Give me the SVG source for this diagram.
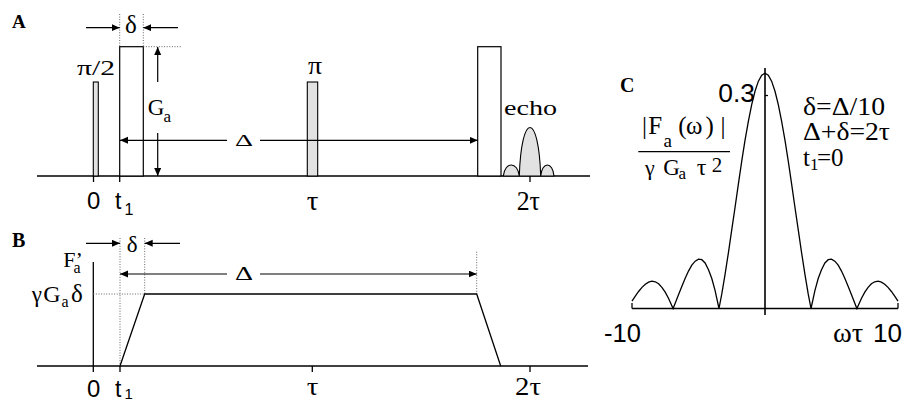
<svg xmlns="http://www.w3.org/2000/svg" width="913" height="401" viewBox="0 0 913 401">
<style>
.ln{stroke:#000;stroke-width:1.3;fill:none}
.ax{stroke:#000;stroke-width:1.6;fill:none}
.dot{stroke:#666;stroke-width:1;stroke-dasharray:1 1.6;fill:none}
.box{stroke:#000;stroke-width:1.2;fill:#fff}
.gray{stroke:#000;stroke-width:1.1;fill:#e2e2e2}
.arr{stroke:#000;stroke-width:1.2;fill:none;marker-end:url(#ah)}
.s{font-family:"Liberation Serif","DejaVu Serif",serif;fill:#000}
.b{font-family:"Liberation Serif","DejaVu Serif",serif;font-weight:bold;fill:#000}
.ss{font-family:"Liberation Sans",Arial,sans-serif;fill:#000}
</style>
<defs>
<marker id="ah" markerUnits="userSpaceOnUse" markerWidth="9" markerHeight="8" refX="8" refY="3.5" orient="auto">
<path d="M0,0 L8,3.5 L0,7 Z" fill="#000"/>
</marker>
</defs>
<rect width="913" height="401" fill="#fff"/>

<g id="panelA">
<text class="b" x="12" y="28" font-size="19">A</text>
<g id="A-shapes">
<line class="ax" x1="37" y1="176" x2="590" y2="176"/>
<line class="ln" x1="93.5" y1="176" x2="93.5" y2="182"/>
<line class="ln" x1="119.7" y1="176" x2="119.7" y2="182"/>
<line class="ln" x1="530" y1="176" x2="530" y2="182"/>
<rect id="pulse90" class="gray" x="93.3" y="82" width="5" height="94"/>
<rect id="grad1" class="box" x="119.7" y="46.7" width="23.6" height="129.3"/>
<rect id="pulse180" class="gray" x="307.3" y="82" width="10.4" height="94"/>
<rect id="grad2" class="box" x="477.7" y="46.7" width="23.3" height="129.3"/>
<path id="echo" class="gray" d="M503.3,176 C504.9,161.3 517.7,161.3 519.3,176 Z M519.3,176 C521.4,111.3 538.6,111.3 540.7,176 Z M540.7,176 C542,161.3 552.7,161.3 554,176 Z"/>
<line class="dot" x1="119.7" y1="14" x2="119.7" y2="46.7"/>
<line class="dot" x1="143.3" y1="14" x2="143.3" y2="46.7"/>
<line class="dot" x1="143.3" y1="46.7" x2="182" y2="46.7"/>
</g>
<g id="A-connectors">
<line class="arr" x1="86" y1="27.7" x2="119.7" y2="27.7"/>
<line class="arr" x1="178" y1="27.7" x2="143.3" y2="27.7"/>
<line class="arr" x1="157.7" y1="82" x2="157.7" y2="47"/>
<line class="arr" x1="157.7" y1="133" x2="157.7" y2="176"/>
<line class="arr" x1="227" y1="140.3" x2="120" y2="140.3"/>
<line class="arr" x1="260" y1="140.3" x2="477.7" y2="140.3"/>
</g>
<text class="s" x="125" y="33" font-size="25">δ</text>
<text class="s" x="77" y="75" font-size="22" textLength="38" lengthAdjust="spacingAndGlyphs">π/2</text>
<text class="s" font-size="23"><tspan x="147.7" y="115">G</tspan><tspan x="163.5" y="122" font-size="17">a</tspan></text>
<text class="s" x="235" y="146" font-size="17" textLength="18" lengthAdjust="spacingAndGlyphs">Δ</text>
<text class="s" x="308" y="74" font-size="25" textLength="14" lengthAdjust="spacingAndGlyphs">π</text>
<text class="s" x="504" y="115" font-size="22" textLength="53" lengthAdjust="spacingAndGlyphs">echo</text>
<text class="ss" x="87" y="209" font-size="23" textLength="13.3" lengthAdjust="spacingAndGlyphs">0</text>
<text class="ss" font-size="23"><tspan x="115" y="209">t</tspan><tspan x="124.5" y="215" font-size="16">1</tspan></text>
<text class="s" x="306.7" y="210" font-size="27" textLength="11.6" lengthAdjust="spacingAndGlyphs">τ</text>
<text class="s" x="516.7" y="210" font-size="27" textLength="23.3" lengthAdjust="spacingAndGlyphs">2τ</text>
</g>

<g id="panelB">
<text class="b" x="12" y="246.5" font-size="20">B</text>
<g id="B-shapes">
<line class="ax" x1="37" y1="366" x2="588" y2="366"/>
<line class="ln" x1="93.3" y1="262" x2="93.3" y2="372"/>
<line class="ln" x1="120" y1="366" x2="120" y2="372"/>
<line class="ln" x1="312.3" y1="366" x2="312.3" y2="372"/>
<line class="ln" x1="530" y1="366" x2="530" y2="372"/>
<line class="dot" x1="120" y1="238" x2="120" y2="366"/>
<line class="dot" x1="144.7" y1="238" x2="144.7" y2="294"/>
<line class="dot" x1="93.3" y1="294" x2="144.7" y2="294"/>
<line class="dot" x1="476.7" y1="251.7" x2="476.7" y2="294"/>
<polyline id="trapezoid" class="ln" points="120,366 144.7,294 476.7,294 500.7,366"/>
</g>
<g id="B-connectors">
<line class="arr" x1="86" y1="243.3" x2="120" y2="243.3"/>
<line class="arr" x1="180" y1="243.3" x2="144.7" y2="243.3"/>
<line class="arr" x1="227" y1="274" x2="120" y2="274"/>
<line class="arr" x1="260" y1="274" x2="476.7" y2="274"/>
</g>
<text class="s" x="126.7" y="252" font-size="23">δ</text>
<text class="s" font-size="22"><tspan x="63.3" y="266.7">F’</tspan><tspan x="73.5" y="273" font-size="16">a</tspan></text>
<text class="s" font-size="23"><tspan x="31.7" y="301.7">γ</tspan><tspan x="43.3" y="301.7" font-size="24">G</tspan><tspan x="61.5" y="306.5" font-size="16">a</tspan><tspan x="71" y="301.7" font-size="25">δ</tspan></text>
<text class="s" x="235" y="280" font-size="18" textLength="18" lengthAdjust="spacingAndGlyphs">Δ</text>
<text class="ss" x="87" y="396.5" font-size="23" textLength="13.3" lengthAdjust="spacingAndGlyphs">0</text>
<text class="ss" font-size="23"><tspan x="115" y="396.5">t</tspan><tspan x="124.5" y="398.5" font-size="15">1</tspan></text>
<text class="s" x="306.7" y="395" font-size="26" textLength="11.6" lengthAdjust="spacingAndGlyphs">τ</text>
<text class="s" x="515" y="395" font-size="26" textLength="26" lengthAdjust="spacingAndGlyphs">2τ</text>
</g>

<g id="panelC">
<text class="b" x="620" y="92" font-size="20">C</text>
<g id="C-shapes">
<line class="ax" x1="632" y1="308.5" x2="898" y2="308.5"/>
<line class="ax" x1="765" y1="68" x2="765" y2="315"/>
<line class="ln" x1="765" y1="95.5" x2="768" y2="95.5"/>
<line class="ln" x1="632" y1="303" x2="632" y2="308.5"/>
<line class="ln" x1="898" y1="303" x2="898" y2="308.5"/>
<polyline id="spectrum" class="ln" stroke-width="1.7" points="632,301.1 635.3,296.2 638.6,291.5 642,287.4 645.3,284.2 648.6,282.1 651.9,281.2 655.3,281.8 658.6,283.8 661.9,287.3 665.2,292.2 668.6,298.5 673.1,308.5 675.2,303.2 678.5,294.8 681.9,286.2 685.2,278.3 688.5,271.1 691.8,265.2 695.2,261.2 698.5,259.2 701.8,259.7 705.1,263 708.5,269.7 711.8,278.5 715.1,290.6 719,308.5 721.8,293.9 725.1,274.2 728.4,252.8 731.7,230.2 735.1,207 738.4,183.8 741.7,161.3 745,140.3 748.4,121.2 751.7,104.7 755,91.3 758.3,81.4 761.7,75.3 765,73.3 768.3,75.3 771.7,81.4 775,91.3 778.3,104.7 781.6,121.2 785,140.3 788.3,161.3 791.6,183.8 794.9,207 798.3,230.2 801.6,252.8 804.9,274.2 808.2,293.9 811,308.5 814.9,290.6 818.2,278.5 821.5,269.7 824.9,263 828.2,259.7 831.5,259.2 834.8,261.2 838.2,265.2 841.5,271.1 844.8,278.3 848.1,286.2 851.5,294.8 854.8,303.2 856.9,308.5 861.4,298.5 864.8,292.2 868.1,287.3 871.4,283.8 874.7,281.8 878.1,281.2 881.4,282.1 884.7,284.2 888,287.4 891.4,291.5 894.7,296.2 898,301.1"/>
<line class="ln" x1="638.3" y1="151.7" x2="730" y2="151.7"/>
</g>
<text class="ss" x="718.3" y="101.7" font-size="26" textLength="36.7" lengthAdjust="spacingAndGlyphs">0.3</text>
<text class="s" font-size="25"><tspan x="642" y="134">|</tspan><tspan x="648.3" y="134">F</tspan><tspan x="663.5" y="146.7" font-size="19">a</tspan><tspan x="678.3" y="134">(</tspan><tspan x="686" y="134">ω</tspan><tspan x="705.5" y="134">)</tspan><tspan x="720.5" y="134">|</tspan></text>
<text class="s" font-size="22"><tspan x="645" y="175">γ</tspan><tspan x="663.3" y="175" font-size="23">G</tspan><tspan x="678.5" y="178.5" font-size="17">a</tspan><tspan x="696.7" y="175" font-size="24">τ</tspan><tspan x="711.7" y="171.7" font-size="21">2</tspan></text>
<text class="s" x="803" y="115" font-size="25" textLength="82" lengthAdjust="spacingAndGlyphs">δ=Δ/10</text>
<text class="s" x="803" y="140" font-size="25" textLength="87" lengthAdjust="spacingAndGlyphs">Δ+δ=2τ</text>
<text class="s" font-size="25"><tspan x="803" y="166">t</tspan><tspan x="810" y="169.5" font-size="17">1</tspan><tspan x="817" y="166">=0</tspan></text>
<text class="ss" x="604" y="341.7" font-size="25" textLength="37" lengthAdjust="spacingAndGlyphs">-10</text>
<text class="s" x="833" y="341.7" font-size="27" textLength="30.3" lengthAdjust="spacingAndGlyphs">ωτ</text>
<text class="ss" x="873" y="341.7" font-size="25" textLength="29" lengthAdjust="spacingAndGlyphs">10</text>
</g>
</svg>
